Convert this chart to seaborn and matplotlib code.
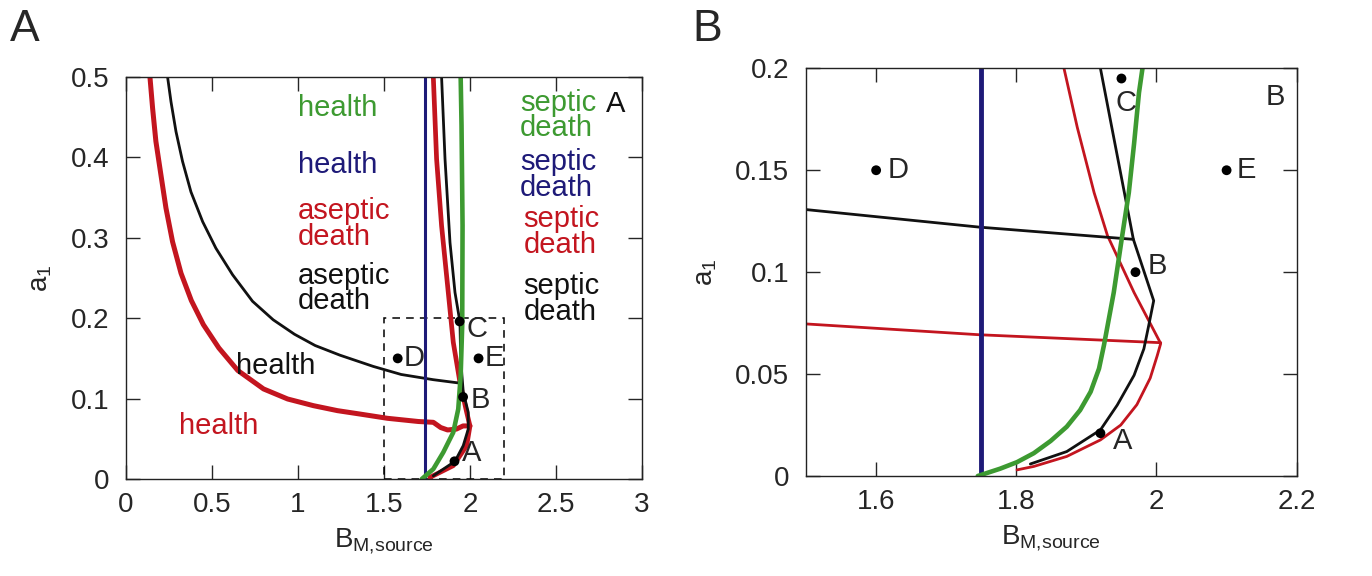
import matplotlib
matplotlib.use('Agg')
import matplotlib.pyplot as plt
import matplotlib.patches as patches
import numpy as np
import seaborn as sns

# colours of the four model variants
red = '#c3151f'
black = '#111111'
green = '#3d9a31'
blue = '#1e1a78'

# ---- panel A : full view ----
redA_outer_x = [0.1395, 0.155, 0.174, 0.2035, 0.2326, 0.271, 0.32, 0.38, 0.45, 0.54, 0.65, 0.80, 0.94, 1.09,
                1.23, 1.36, 1.52, 1.70, 1.787, 1.83, 1.87, 1.92, 1.96, 2.0]
redA_outer_y = [0.5, 0.461, 0.42, 0.378, 0.337, 0.295, 0.256, 0.222, 0.192, 0.163, 0.135, 0.112, 0.0995, 0.0912,
                0.085, 0.0808, 0.0755, 0.0715, 0.0705, 0.064, 0.061, 0.062, 0.066, 0.066]
redA_right_x = [1.787, 1.806, 1.835, 1.874, 1.903, 1.942, 1.981, 2.0, 1.981, 1.903, 1.767]
redA_right_y = [0.5, 0.398, 0.315, 0.232, 0.170, 0.120, 0.083, 0.066, 0.0415, 0.0166, 0.002]

blackA_outer_x = [0.242, 0.262, 0.291, 0.329, 0.378, 0.446, 0.523, 0.62, 0.736, 0.856, 0.98, 1.1, 1.244, 1.438,
                  1.6, 1.787, 1.95]
blackA_outer_y = [0.5, 0.469, 0.432, 0.395, 0.357, 0.32, 0.287, 0.254, 0.221, 0.198, 0.180, 0.166, 0.154, 0.140,
                  0.130, 0.1235, 0.119]
blackA_right_x = [1.835, 1.855, 1.884, 1.913, 1.942, 1.946, 1.961, 1.990, 1.990, 1.961, 1.913, 1.787]
blackA_right_y = [0.5, 0.398, 0.294, 0.232, 0.195, 0.149, 0.108, 0.083, 0.062, 0.0415, 0.022, 0.004]

greenA_x = [1.72, 1.787, 1.845, 1.903, 1.932, 1.946, 1.955, 1.957, 1.951, 1.946]
greenA_y = [0.0, 0.0124, 0.0332, 0.058, 0.087, 0.1285, 0.191, 0.315, 0.44, 0.5]

blueA_x = 1.74

ptsA_x = [1.91, 1.96, 1.94, 1.58, 2.05]
ptsA_y = [0.022, 0.102, 0.196, 0.15, 0.15]
pts_lab = ['A', 'B', 'C', 'D', 'E']

# ---- panel B : zoom of the dashed box ----
zoom_x = [1.5, 2.2]
zoom_y = [0.0, 0.2]

redB_h_x = [1.5, 1.747, 2.006]
redB_h_y = [0.0746, 0.0693, 0.0654]
redB_c_x = [1.868, 1.887, 1.911, 1.930, 1.968, 2.006, 2.001, 1.991, 1.972, 1.949, 1.92, 1.872, 1.825, 1.801]
redB_c_y = [0.2, 0.171, 0.139, 0.118, 0.090, 0.065, 0.059, 0.048, 0.035, 0.025, 0.0177, 0.0096, 0.0047, 0.003]

blackB_h_x = [1.5, 1.747, 1.967]
blackB_h_y = [0.1307, 0.1221, 0.1161]
blackB_c_x = [1.92, 1.967, 1.996, 1.989, 1.982, 1.968, 1.944, 1.92, 1.872, 1.82]
blackB_c_y = [0.2, 0.1161, 0.086, 0.074, 0.0624, 0.0494, 0.0348, 0.0226, 0.012, 0.0059]

greenB_x = [1.745, 1.777, 1.801, 1.825, 1.849, 1.872, 1.891, 1.906, 1.918, 1.925, 1.939, 1.951, 1.9605, 1.968,
            1.975, 1.98]
greenB_y = [0.0, 0.0036, 0.0068, 0.0112, 0.0172, 0.0242, 0.0323, 0.0413, 0.0527, 0.0641, 0.090, 0.1177, 0.139,
            0.163, 0.188, 0.2]

blueB_x = 1.75

ptsB_x = [1.92, 1.97, 1.95, 1.6, 2.1]
ptsB_y = [0.021, 0.1, 0.195, 0.15, 0.15]

sns.set_style('ticks')
plt.rcParams['font.family'] = ['Liberation Sans', 'DejaVu Sans']
plt.rcParams['mathtext.default'] = 'regular'

fig = plt.figure(figsize=(13.72, 5.76), dpi=100)
axA = fig.add_axes([0.0918, 0.1684, 0.3761, 0.698])
axB = fig.add_axes([0.5875, 0.1736, 0.3576, 0.7078])


def curve(ax, x, y, col, lw):
    sns.lineplot(x=x, y=y, sort=False, estimator=None, color=col, lw=lw, ax=ax)


# panel A curves
curve(axA, redA_outer_x, redA_outer_y, red, 3.6)
curve(axA, redA_right_x, redA_right_y, red, 3.4)
curve(axA, blackA_outer_x, blackA_outer_y, black, 2.0)
curve(axA, blackA_right_x, blackA_right_y, black, 2.0)
axA.axvline(blueA_x, color=blue, lw=2.2)
curve(axA, greenA_x, greenA_y, green, 3.3)
sns.scatterplot(x=ptsA_x, y=ptsA_y, color='black', s=50, ax=axA, zorder=5, edgecolor='none')

axA.add_patch(patches.Rectangle((zoom_x[0], zoom_y[0]), zoom_x[1] - zoom_x[0], zoom_y[1] - zoom_y[0],
                                fill=False, ls=(0, (5, 4)), lw=1.1, color='black'))

fs = 21
offA = [(0.045, 0.01), (0.045, -0.004), (0.04, -0.01), (0.035, 0.0), (0.035, 0.0)]
for px, py, lab, (dx, dy) in zip(ptsA_x, ptsA_y, pts_lab, offA):
    axA.text(px + dx, py + dy, lab, fontsize=fs, va='center', ha='left')

axA.text(1.0, 0.462, 'health', color=green, fontsize=fs, va='center')
axA.text(1.0, 0.391, 'health', color=blue, fontsize=fs, va='center')
axA.text(1.0, 0.317, 'aseptic\ndeath', color=red, fontsize=fs, va='center', linespacing=0.9)
axA.text(1.0, 0.237, 'aseptic\ndeath', color=black, fontsize=fs, va='center', linespacing=0.9)
axA.text(2.29, 0.452, 'septic\ndeath', color=green, fontsize=fs, va='center', linespacing=0.9)
axA.text(2.79, 0.466, 'A', color=black, fontsize=fs, va='center')
axA.text(2.29, 0.378, 'septic\ndeath', color=blue, fontsize=fs, va='center', linespacing=0.9)
axA.text(2.31, 0.307, 'septic\ndeath', color=red, fontsize=fs, va='center', linespacing=0.9)
axA.text(2.31, 0.224, 'septic\ndeath', color=black, fontsize=fs, va='center', linespacing=0.9)
axA.text(0.64, 0.141, 'health', color=black, fontsize=fs, va='center')
axA.text(0.31, 0.066, 'health', color=red, fontsize=fs, va='center')

axA.set_xlim(0, 3)
axA.set_ylim(0, 0.5)
axA.set_xticks(np.arange(0, 3.01, 0.5))
axA.set_xticklabels(['0', '0.5', '1', '1.5', '2', '2.5', '3'])
axA.set_yticks(np.arange(0, 0.51, 0.1))
axA.set_yticklabels(['0', '0.1', '0.2', '0.3', '0.4', '0.5'])

# panel B curves
curve(axB, redB_h_x, redB_h_y, red, 2.0)
curve(axB, redB_c_x, redB_c_y, red, 2.0)
curve(axB, blackB_h_x, blackB_h_y, black, 2.0)
curve(axB, blackB_c_x, blackB_c_y, black, 2.0)
axB.axvline(blueB_x, color=blue, lw=3.5)
curve(axB, greenB_x, greenB_y, green, 3.3)
sns.scatterplot(x=ptsB_x, y=ptsB_y, color='black', s=50, ax=axB, zorder=5, edgecolor='none')

offB = [(0.018, -0.004), (0.018, 0.003), (-0.008, -0.012), (0.016, 0.0), (0.014, 0.0)]
for px, py, lab, (dx, dy) in zip(ptsB_x, ptsB_y, pts_lab, offB):
    axB.text(px + dx, py + dy, lab, fontsize=fs, va='center', ha='left')
axB.text(2.155, 0.186, 'B', fontsize=fs, va='center', ha='left')

axB.set_xlim(zoom_x)
axB.set_ylim(zoom_y)
axB.set_xticks([1.6, 1.8, 2.0, 2.2])
axB.set_xticklabels(['1.6', '1.8', '2', '2.2'])
axB.set_yticks([0, 0.05, 0.1, 0.15, 0.2])
axB.set_yticklabels(['0', '0.05', '0.1', '0.15', '0.2'])

for ax in (axA, axB):
    for sp in ax.spines.values():
        sp.set_visible(True)
        sp.set_linewidth(1.0)
        sp.set_color('#222222')
    ax.tick_params(direction='in', length=10, width=1.0, top=True, right=True, labelsize=20)
    ax.tick_params(axis='x', pad=9)
    ax.tick_params(axis='y', pad=12)
    ax.set_xlabel('B$_{M{,}source}$', fontsize=20, labelpad=6)
    ax.set_ylabel('a$_1$', fontsize=20, labelpad=12)

fig.text(0.007, 0.985, 'A', fontsize=32, va='top', ha='left')
fig.text(0.505, 0.985, 'B', fontsize=32, va='top', ha='left')

fig.savefig('out.png', dpi=100)
